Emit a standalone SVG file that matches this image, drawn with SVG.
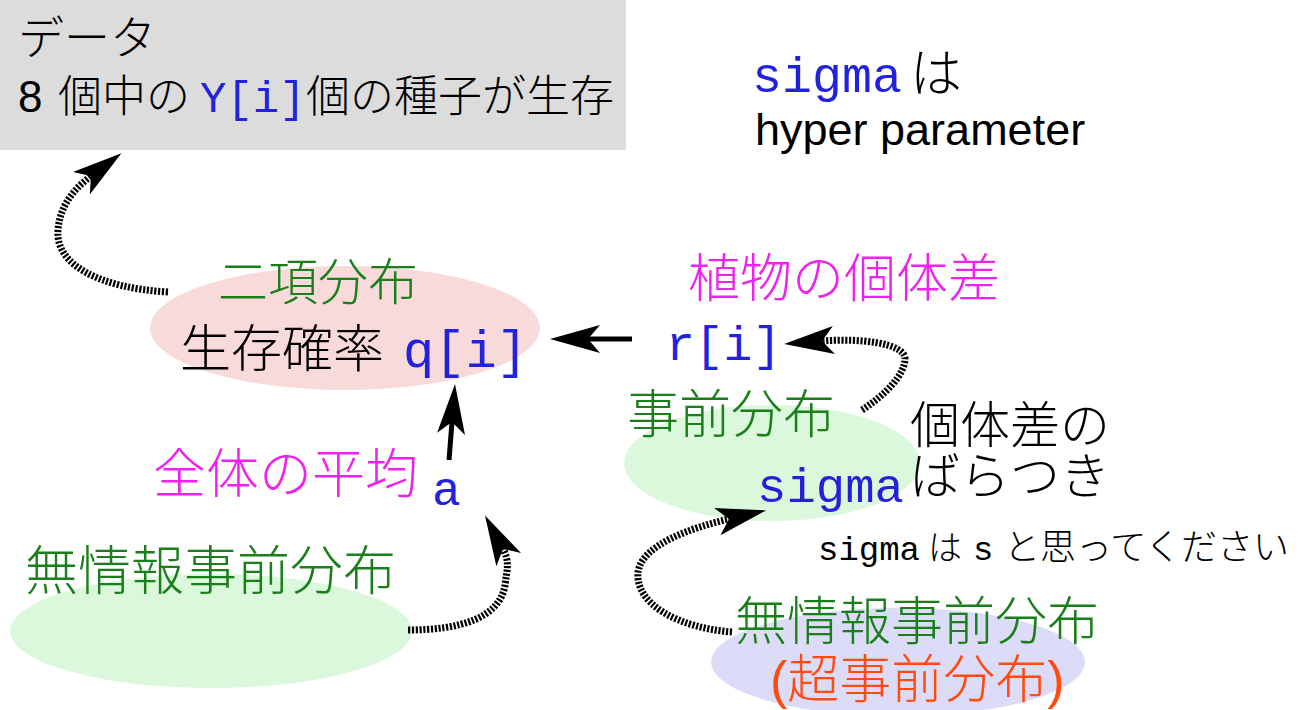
<svg xmlns="http://www.w3.org/2000/svg" width="1306" height="710" viewBox="0 0 1306 710">
<style>
.cjk{font-family:"Noto Sans CJK JP","Liberation Sans",sans-serif;font-weight:300;}
.lcjk{font-family:"Liberation Sans","Noto Sans CJK JP",sans-serif;font-weight:300;}
.lat{font-family:"Liberation Sans","Noto Sans CJK JP",sans-serif;}
.mono{font-family:"Liberation Mono","DejaVu Sans Mono",monospace;}
.grn{fill:#1a7f1a;}
.mag{fill:#ee22ee;}
.blu{fill:#2222dd;}
.blk{fill:#000;}
.org{fill:#ff4a10;}
.dot{fill:none;stroke:#000;stroke-width:7;stroke-dasharray:2.2 1.6;marker-end:url(#ah);}
.sol{fill:none;stroke:#000;stroke-width:5;marker-end:url(#ah);}
</style>
<defs>
<marker id="ah" markerUnits="userSpaceOnUse" markerWidth="52" markerHeight="30" refX="12" refY="14" orient="auto">
<path d="M50,14 L0,0 L12,14 L0,28 Z" fill="#000"/>
</marker>
</defs>
<rect width="1306" height="710" fill="#fff"/>

<g id="data">
<rect x="0" y="0" width="626" height="150" fill="#dcdcdc"/>
<text x="18" y="54" class="cjk blk" font-size="46">データ</text>
<text y="112" font-size="44"><tspan x="18" class="lat blk">8</tspan><tspan x="58" class="cjk blk">個中の</tspan><tspan x="200" class="mono blu">Y[i]</tspan><tspan x="306" class="cjk blk">個の種子が生存</tspan></text>
</g>

<g id="hyper-note">
<text y="92"><tspan x="752" class="mono blu" font-size="50">sigma</tspan><tspan x="910" class="cjk blk" font-size="52">は</tspan></text>
<text x="755" y="145" class="lat blk" font-size="45">hyper parameter</text>
</g>

<g id="binomial">
<ellipse cx="345" cy="328" rx="195" ry="62" fill="#f9dada"/>
<text x="218" y="300" class="cjk grn" font-size="50">二項分布</text>
<text y="367"><tspan x="180" class="cjk blk" font-size="51">生存確率</tspan><tspan x="403" class="mono blu" font-size="52">q[i]</tspan></text>
</g>

<g id="individual">
<text x="688" y="297" class="cjk mag" font-size="52">植物の個体差</text>
<text x="666" y="360" class="mono blu" font-size="48">r[i]</text>
</g>

<g id="prior">
<ellipse cx="772" cy="463" rx="148" ry="58" fill="#dcf8dc"/>
<text x="627" y="433" class="cjk grn" font-size="52">事前分布</text>
<text x="757" y="502" class="mono blu" font-size="49">sigma</text>
</g>

<g id="variation-label">
<text x="910" y="443" class="lcjk blk" font-size="50">個体差の</text>
<text x="910" y="494" class="lcjk blk" font-size="50">ばらつき</text>
</g>

<g id="s-note">
<text y="560"><tspan x="818" class="mono blk" font-size="34">sigma</tspan><tspan x="928" class="cjk blk" font-size="34">は</tspan><tspan x="973" class="mono blk" font-size="34">s</tspan><tspan x="1004" class="cjk blk" font-size="36">と思ってください</tspan></text>
</g>

<g id="mean">
<text x="153" y="493" class="cjk mag" font-size="53">全体の平均</text>
<text x="432" y="505" class="mono blu" font-size="48">a</text>
</g>

<g id="noninfo-left">
<ellipse cx="211" cy="631" rx="201" ry="57" fill="#dcf8dc"/>
<text x="25" y="590" class="cjk grn" font-size="53">無情報事前分布</text>
</g>

<g id="noninfo-right">
<ellipse cx="898" cy="662" rx="187" ry="54" fill="#dcdcf8"/>
<text x="735" y="640" class="cjk grn" font-size="52">無情報事前分布</text>
<text x="770" y="698" class="lcjk org" font-size="52">(超事前分布)</text>
</g>

<g id="connectors">
<path class="dot" d="M168,292 C100,288 55,265 58,230 C60,205 75,188 91,176"/>
<path class="sol" d="M632,339 L588,339"/>
<path class="sol" d="M449,460 L452,422"/>
<path class="dot" d="M408,630 C460,630 500,618 505,585 C507,570 510,562 503,549"/>
<path class="dot" d="M862,410 C885,395 905,375 905,358 C903,343 860,338 822,341"/>
<path class="dot" d="M732,632 C680,628 635,605 638,572 C642,545 690,528 729,519"/>
</g>
</svg>
